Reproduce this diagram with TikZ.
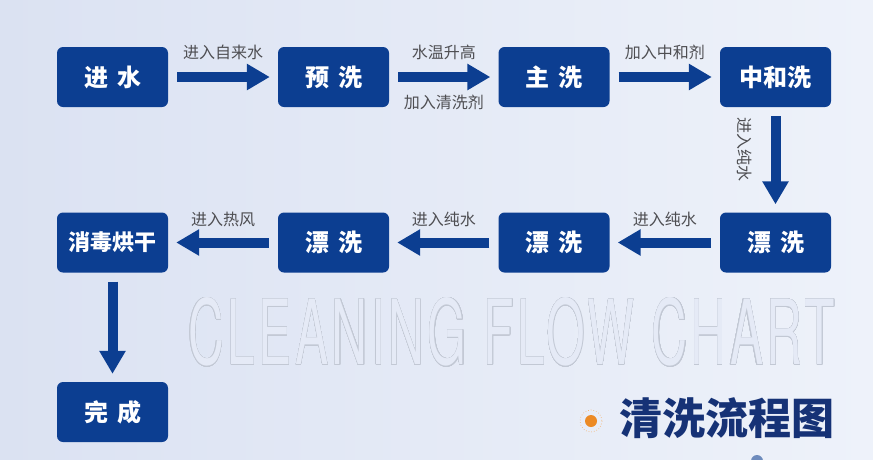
\documentclass[tikz,border=0pt]{standalone}
\usepackage{fontspec}
\usepackage{graphicx}
\usepackage{contour}
\newfontfamily\cjk{Noto Sans CJK SC}
\newfontfamily\wmfont[LetterSpace=7]{TeX Gyre Heros}
\usetikzlibrary{arrows.meta,positioning,calc}
\definecolor{washblue}{RGB}{12,62,145}
\definecolor{titleblue}{RGB}{22,50,118}
\definecolor{labgray}{RGB}{78,78,82}
\definecolor{bgleft}{RGB}{219,226,242}
\definecolor{bgright}{RGB}{238,242,250}
\definecolor{bgmid}{RGB}{229,234,246}
\definecolor{dotorange}{RGB}{236,138,36}
\definecolor{wmgray}{RGB}{194,200,212}
\contournumber{24}
\contourlength{0.4pt}

\begin{document}
\begin{tikzpicture}[x=1pt, y=-1pt,
    stepbox/.style={rectangle, rounded corners=6pt, fill=washblue, text=white,
                    minimum width=111pt, minimum height=60pt, inner sep=0pt,
                    font=\cjk\bfseries\fontsize{24}{24}\selectfont},
    flow/.style={-{Triangle[length=23pt,width=25pt]}, line width=10pt, washblue,
                 shorten <=9pt, shorten >=8pt},
    lab/.style={font=\cjk\fontsize{16}{16}\selectfont, text=labgray, inner sep=0pt}]

    % Background
    \fill[left color=bgleft, right color=bgright] (0,0) rectangle (873,459);
    \useasboundingbox (0,0) rectangle (873,459);

    % Watermark
    \node[inner sep=0pt, anchor=south west] (wm) at (188,367)
        {\resizebox{647pt}{67pt}{\wmfont\fontsize{93}{93}\selectfont
         \contour{wmgray}{\color{bgmid}CLEANING FLOW CHART}}};

    % First row
    \node[stepbox] (in) at (112.5,77) {进\hspace{9pt}水};
    \node[stepbox] (pre) at (333.5,77) {预\hspace{9pt}洗};
    \node[stepbox] (main) at (554,77) {主\hspace{9pt}洗};
    \node[stepbox] (neu) at (775.5,77) {中和洗};
    % Second row
    \node[stepbox] (r1) at (775.5,242.5) {漂\hspace{9pt}洗};
    \node[stepbox] (r2) at (554,242.5) {漂\hspace{9pt}洗};
    \node[stepbox] (r3) at (333.5,242.5) {漂\hspace{9pt}洗};
    \node[stepbox, font=\cjk\bfseries\fontsize{22}{22}\selectfont] (dry) at (112.5,242.5) {消毒烘干};
    % Last
    \node[stepbox] (done) at (112.5,412) {完\hspace{9pt}成};

    \draw[flow] (in) -- node[lab, above=12pt] {进入自来水} (pre);
    \draw[flow] (pre) -- node[lab, above=12pt] {水温升高}
                         node[lab, below=13pt] {加入清洗剂} (main);
    \draw[flow] (main) -- node[lab, above=12pt] {加入中和剂} (neu);
    \draw[flow] (neu) -- (r1);
    \node[lab, rotate=-90] (neulab) at ($(neu.south)!0.5!(r1.north)+(-31,-10)$) {进入纯水};
    \draw[flow] (r1) -- node[lab, above=11pt] {进入纯水} (r2);
    \draw[flow] (r2) -- node[lab, above=11pt] {进入纯水} (r3);
    \draw[flow] (r3) -- node[lab, above=11pt] {进入热风} (dry);
    \draw[flow] (dry) -- (done);

    % Title
    \node[font=\cjk\bfseries\fontsize{43}{43}\selectfont, text=titleblue] (title) at (727,418) {清洗流程图};
    \fill[dotorange] (591,421) circle (6);
    \draw[dotorange!60, dotted, line width=0.7pt] (591,421) circle (11);
    \fill[washblue!60] (757,461) circle (6);
\end{tikzpicture}
\end{document}
